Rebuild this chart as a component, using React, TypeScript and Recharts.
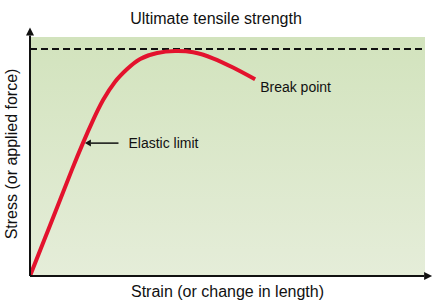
import React from "react";
import { ComposedChart, Line, XAxis, YAxis, ReferenceLine, ReferenceArea, ReferenceDot, Label } from "recharts";

// strain (x) vs stress (y), 0–100 scale on both axes
const strain = [0, 3.8, 7.6, 10.6, 13.4, 16.0, 18.5, 21.5, 24.6, 27.9, 32.2, 36.7, 41.3, 46.3, 51.4, 57.0];
const stress = [0, 15.9, 31.8, 44.4, 55.6, 65.3, 73.6, 81.2, 86.6, 90.8, 93.3, 94.1, 93.6, 91.1, 87.2, 82.3];
const ultimateStrength = 95;
const elasticLimit = { x: 13.4, y: 55.6 };
const breakPoint = { x: 57.0, y: 82.3 };

const data = strain.map((x, i) => ({ x, y: stress[i] }));

const FONT = "'Liberation Sans', Arial, sans-serif";
const txt = { fontFamily: FONT, fontSize: 14, fill: "#111" };

const Arrow = (props: any) => {
  const { x1, y1, x2, y2, stroke, strokeWidth, head = 7, half = 4 } = props;
  const ang = Math.atan2(y2 - y1, x2 - x1);
  const bx = x2 - head * Math.cos(ang);
  const by = y2 - head * Math.sin(ang);
  const px = -Math.sin(ang) * half;
  const py = Math.cos(ang) * half;
  return (
    <g>
      <line x1={x1} y1={y1} x2={bx} y2={by} stroke={stroke} strokeWidth={strokeWidth} />
      <polygon points={`${x2},${y2} ${bx + px},${by + py} ${bx - px},${by - py}`} fill={stroke} />
    </g>
  );
};

export default function App() {
  return (
    <div style={{ position: "absolute", left: 0, top: 0, width: 433, height: 301, background: "#fff" }}>
      <ComposedChart width={433} height={301} data={data} margin={{ top: 37, right: 8, left: 0, bottom: 0 }}>
        <defs>
          <linearGradient id="bg" x1="0" y1="0" x2="0" y2="1">
            <stop offset="0%" stopColor="#d2e3bd" />
            <stop offset="100%" stopColor="#e5edd9" />
          </linearGradient>
        </defs>
        <XAxis type="number" dataKey="x" domain={[0, 100]} allowDataOverflow axisLine={false} tick={false} tickLine={false} height={25}>
          <Label value="Strain (or change in length)" position="insideBottom" offset={4}
            style={{ ...txt, fontSize: 16 }} />
        </XAxis>
        <YAxis type="number" domain={[0, 100]} allowDataOverflow axisLine={false} tick={false} tickLine={false} width={30} />
        <ReferenceArea x1={0} x2={100} y1={0} y2={100} fill="url(#bg)" fillOpacity={1} stroke="none" />
        <ReferenceLine y={ultimateStrength} stroke="#111" strokeWidth={2} strokeDasharray="7 4" />
        <Line dataKey="y" type="natural" stroke="#e3122d" strokeWidth={4} dot={false} isAnimationActive={false} />
        <ReferenceLine ifOverflow="visible" segment={[{ x: 0, y: 0 }, { x: 0, y: 104 }]} stroke="#111" strokeWidth={2}
          shape={(p: any) => <Arrow {...p} head={8} half={4} />} />
        <ReferenceLine ifOverflow="visible" segment={[{ x: 0, y: 0 }, { x: 101.8, y: 0 }]} stroke="#111" strokeWidth={2}
          shape={(p: any) => <Arrow {...p} head={8} half={4} />} />
        <ReferenceLine ifOverflow="visible"
          segment={[{ x: elasticLimit.x + 9.0, y: elasticLimit.y }, { x: elasticLimit.x + 0.5, y: elasticLimit.y }]}
          stroke="#111" strokeWidth={1.5} shape={(p: any) => <Arrow {...p} head={6} half={3.5} />} />
        <ReferenceDot x={elasticLimit.x + 9.0} y={elasticLimit.y} r={0} stroke="none" fill="none">
          <Label value="Elastic limit" position="right" offset={10} style={txt} />
        </ReferenceDot>
        <ReferenceDot x={breakPoint.x} y={breakPoint.y} r={0} stroke="none" fill="none">
          <Label value="Break point" position="right" offset={5} dy={8} style={txt} />
        </ReferenceDot>
        <text x={216} y={24} textAnchor="middle" style={{ ...txt, fontSize: 16 }}>
          Ultimate tensile strength
        </text>
        <text x={17} y={154} textAnchor="middle" transform="rotate(-90 17 154)" style={{ ...txt, fontSize: 16 }}>
          Stress (or applied force)
        </text>
      </ComposedChart>
    </div>
  );
}
